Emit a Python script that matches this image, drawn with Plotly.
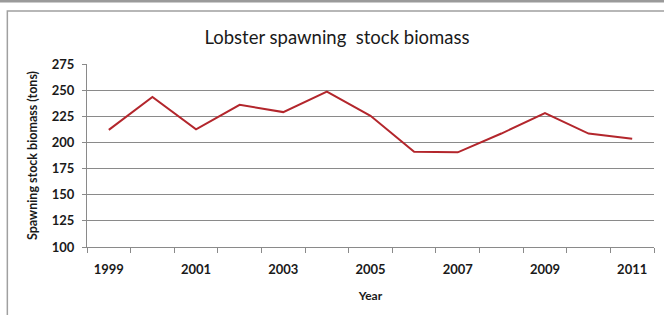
import plotly.graph_objects as go

years = [1999, 2000, 2001, 2002, 2003, 2004, 2005, 2006, 2007, 2008, 2009, 2010, 2011]
biomass = [212, 243.5, 212.5, 236, 229, 248.5, 225.5, 191, 190.5, 208.5, 228, 208.5, 203.5]
x_tick_labels = [1999, 2001, 2003, 2005, 2007, 2009, 2011]
y_ticks = [100, 125, 150, 175, 200, 225, 250, 275]

W, H = 664, 315
L, R, T, B = 86.7, 10, 64, 68.3
pw, ph = W - L - R, H - T - B

def px2x(px):
    return (px - L) / pw

def py2y(py):
    return (H - B - py) / ph

fig = go.Figure()
fig.add_trace(go.Scatter(x=years, y=biomass, mode="lines",
                         line=dict(color="#B3262C", width=2), showlegend=False))

font = "Lato, 'Open Sans', sans-serif"
fig.update_layout(
    width=W, height=H,
    margin=dict(l=L, r=R, t=T, b=B, autoexpand=False),
    paper_bgcolor="white", plot_bgcolor="white",
    font=dict(family=font, color="#1a1a1a"),
    title=dict(text="Lobster spawning  stock biomass", xref="container", x=0.5075,
               xanchor="center", yref="container", y=1 - 38 / H, yanchor="middle",
               font=dict(size=18.5, family=font, color="#1a1a1a")),
    xaxis=dict(range=[1998.5, 2011.5], tickvals=x_tick_labels, ticks="",
               showgrid=False, zeroline=False, showline=True, linecolor="#8a8a8a",
               linewidth=1, ticklabelstandoff=10, automargin=False,
               tickfont=dict(size=13, family=font, weight="bold"),
               minor=dict(tickvals=[y + 0.5 for y in range(1998, 2012)], ticks="outside",
                          ticklen=5, tickcolor="#8a8a8a", showgrid=False),
               title=dict(text="Year", font=dict(size=12, family=font, weight="bold"), standoff=16)),
    yaxis=dict(range=[100, 275], tickvals=y_ticks, ticks="outside", ticklen=4,
               tickcolor="#8a8a8a", showgrid=True, gridcolor="#8a8a8a", gridwidth=1,
               zeroline=False, showline=True, linecolor="#8a8a8a", linewidth=1,
               ticklabelstandoff=5, automargin=False,
               tickfont=dict(size=13, family=font, weight="bold"),
               title=dict(text="Spawning stock biomass (tons)",
                          font=dict(size=12.5, family=font, weight="bold"), standoff=11)),
    shapes=[
        dict(type="rect", xref="paper", yref="paper", x0=px2x(7), x1=px2x(700),
             y0=py2y(400), y1=py2y(11), line=dict(color="#a0a0a0", width=1.5),
             fillcolor="rgba(0,0,0,0)", layer="below"),
        dict(type="rect", xref="paper", yref="paper", x0=px2x(-10), x1=px2x(700),
             y0=py2y(2.5), y1=py2y(0), line=dict(width=0),
             fillcolor="#9a9a9a", layer="above"),
    ],
)

fig.write_html("out.html", config={"displayModeBar": False},
               post_script="document.body.style.margin='0';document.body.style.overflow='hidden';")
